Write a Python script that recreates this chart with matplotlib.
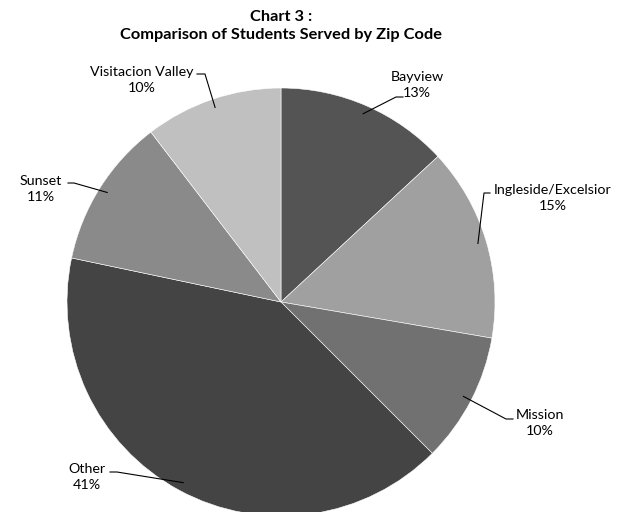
import matplotlib.pyplot as plt
import numpy as np

# ======================
# DATA
# ======================
categories = ['Bayview', 'Ingleside/Excelsior', 'Mission', 'Other', 'Sunset', 'Visitacion Valley']
shares = [13.1, 14.6, 9.8, 40.8, 11.3, 10.4]
colors = ['#545454', '#a0a0a0', '#717171', '#444444', '#8a8a8a', '#c0c0c0']

# label centre and leader line start/elbow, in pixels from the top-left corner
label_xy = [(417, 85), (553, 198), (540, 423), (87, 477), (41, 189), (142, 80)]
leader = [[(403, 97), (396, 97)], [(490, 193), (484, 193)], [(513, 419), (506, 419)],
          [(110, 472), (117, 472)], [(68, 183), (74, 183)], [(197, 74), (205, 74)]]

W, H = 623, 512
CX, CY, R = 281, 302, 214

plt.rcParams['font.family'] = ['Lato', 'DejaVu Sans']

fig = plt.figure(figsize=(W / 100, H / 100), dpi=100)
ax = fig.add_axes([0, 0, 1, 1])

wedges, _ = ax.pie(shares, colors=colors, startangle=90, counterclock=False,
                   radius=R, center=(CX, H - CY),
                   wedgeprops=dict(edgecolor='white', linewidth=0.4))
ax.set_xlim(0, W)
ax.set_ylim(0, H)
ax.set_aspect('equal')
ax.axis('off')

for w, name, val, (tx, ty), pts in zip(wedges, categories, shares, label_xy, leader):
    mid = np.deg2rad((w.theta1 + w.theta2) / 2)
    px = CX + 0.96 * R * np.cos(mid)
    py = (H - CY) + 0.96 * R * np.sin(mid)
    xs = [p[0] for p in pts] + [px]
    ys = [H - p[1] for p in pts] + [py]
    ax.plot(xs, ys, color='black', lw=0.8)
    ax.text(tx, H - ty, f'{name}\n{round(val)}%', ha='center', va='center',
            fontsize=10.3, linespacing=1.35)

fig.text(281 / W, 1 - 26 / H, 'Chart 3 :\nComparison of Students Served by Zip Code',
         ha='center', va='center', fontsize=11.8, fontweight='bold', linespacing=1.35)

fig.savefig('out.png', dpi=100)
